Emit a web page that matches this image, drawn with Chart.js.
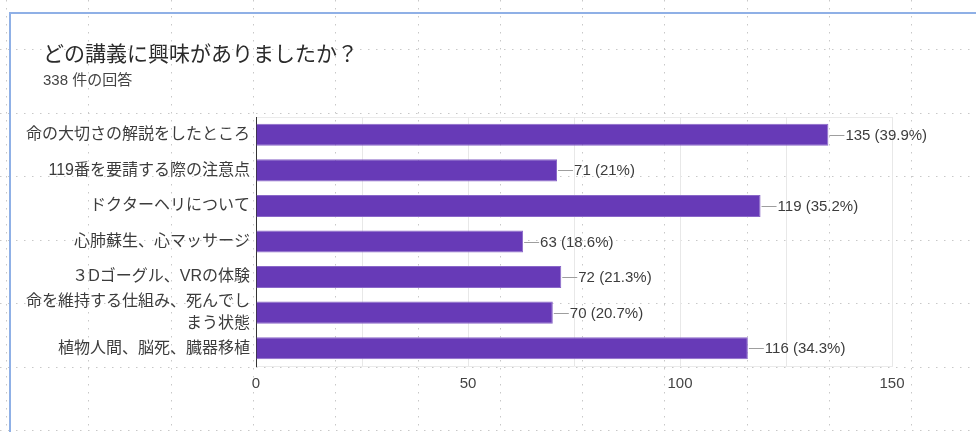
<!DOCTYPE html>
<html>
<head>
<meta charset="utf-8">
<script src="https://cdn.jsdelivr.net/npm/chart.js"></script>
<style>
  body { margin: 0; padding: 0; background: #fff; }
  canvas { display: block; }
</style>
</head>
<body>
<canvas id="lectureChart" width="976" height="432"></canvas>
<script>
// data
const titleText = 'どの講義に興味がありましたか？';
const subtitleText = '338 件の回答';
const categories = [
  '命の大切さの解説をしたところ',
  '119番を要請する際の注意点',
  'ドクターヘリについて',
  '心肺蘇生、心マッサージ',
  '３Dゴーグル、VRの体験',
  ['命を維持する仕組み、死んでし', 'まう状態'],
  '植物人間、脳死、臓器移植'
];
const counts = [135, 71, 119, 63, 72, 70, 116];
const percents = ['39.9', '21', '35.2', '18.6', '21.3', '20.7', '34.3'];
const xTickLabels = [0, 50, 100, 150];

const FONT = "'Liberation Sans', 'Noto Sans CJK JP', sans-serif";

// dotted page grid, blue frame, heading
const backdrop = {
  id: 'backdrop',
  beforeDraw(chart) {
    const ctx = chart.ctx;
    const W = chart.width, H = chart.height;
    ctx.save();
    ctx.fillStyle = '#fff';
    ctx.fillRect(0, 0, W, H);

    ctx.strokeStyle = '#c8c8c8';
    ctx.lineWidth = 1;
    ctx.setLineDash([1.5, 6.5]);
    for (let x = 6; x < W; x += 82.3) {
      ctx.beginPath();
      ctx.moveTo(Math.round(x) + 0.5, 0);
      ctx.lineTo(Math.round(x) + 0.5, H);
      ctx.stroke();
    }
    for (let y = 49; y < H; y += 63.5) {
      ctx.beginPath();
      ctx.moveTo(0, Math.round(y) + 0.5);
      ctx.lineTo(W, Math.round(y) + 0.5);
      ctx.stroke();
    }
    ctx.setLineDash([]);

    ctx.strokeStyle = '#8fb0e6';
    ctx.lineWidth = 2;
    ctx.beginPath();
    ctx.moveTo(10, H);
    ctx.lineTo(10, 13);
    ctx.lineTo(W, 13);
    ctx.stroke();

    ctx.textBaseline = 'middle';
    ctx.textAlign = 'left';
    ctx.fillStyle = '#2b2b2b';
    ctx.font = "21px " + FONT;
    ctx.fillText(titleText, 43, 55);
    ctx.fillStyle = '#444';
    ctx.font = "15px " + FONT;
    ctx.fillText(subtitleText, 43, 81);

    // faint top edge of the plot
    const a = chart.chartArea;
    ctx.strokeStyle = '#ebebeb';
    ctx.lineWidth = 1;
    ctx.beginPath();
    ctx.moveTo(a.left, a.top + 0.5);
    ctx.lineTo(a.right, a.top + 0.5);
    ctx.stroke();
    ctx.restore();
  }
};

// "135 (39.9%)" labels with a short leader line
const barLabels = {
  id: 'barLabels',
  afterDatasetsDraw(chart) {
    const ctx = chart.ctx;
    const meta = chart.getDatasetMeta(0);
    ctx.save();
    ctx.font = "15px " + FONT;
    ctx.textBaseline = 'middle';
    ctx.textAlign = 'left';
    meta.data.forEach((bar, i) => {
      const y = Math.round(bar.y) + 0.5;
      ctx.strokeStyle = '#9e9e9e';
      ctx.lineWidth = 1;
      ctx.beginPath();
      ctx.moveTo(bar.x + 1, y);
      ctx.lineTo(bar.x + 16, y);
      ctx.stroke();
      ctx.fillStyle = '#3c3c3c';
      ctx.fillText(counts[i] + ' (' + percents[i] + '%)', bar.x + 17, bar.y + 1);
    });
    ctx.restore();
  }
};

new Chart(document.getElementById('lectureChart'), {
  type: 'bar',
  data: {
    labels: categories,
    datasets: [{
      data: counts,
      backgroundColor: '#673ab7',
      borderColor: '#8a68c8',
      borderWidth: 1,
      barPercentage: 0.62,
      categoryPercentage: 1
    }]
  },
  options: {
    indexAxis: 'y',
    responsive: false,
    animation: false,
    layout: { padding: { top: 117, right: 84, bottom: 36, left: 0 } },
    plugins: {
      legend: { display: false },
      tooltip: { enabled: false }
    },
    scales: {
      x: {
        min: 0,
        max: 150,
        afterFit(scale) { scale.height = 30; },
        afterBuildTicks(scale) {
          scale.ticks = [0, 25, 50, 75, 100, 125, 150].map(v => ({ value: v }));
        },
        ticks: {
          padding: 9,
          color: '#444',
          font: { family: FONT, size: 15 },
          callback: v => xTickLabels.includes(v) ? String(v) : ''
        },
        grid: { color: '#e8e8e8', drawTicks: false },
        border: { display: true, color: '#ebebeb' }
      },
      y: {
        afterFit(scale) { scale.width = 256; },
        ticks: {
          autoSkip: false,
          padding: 6,
          color: '#3c3c3c',
          font: { family: FONT, size: 16, lineHeight: 1.4 }
        },
        grid: { display: false, drawTicks: false },
        border: { display: true, color: '#333', width: 1 }
      }
    }
  },
  plugins: [backdrop, barLabels]
});
</script>
</body>
</html>
